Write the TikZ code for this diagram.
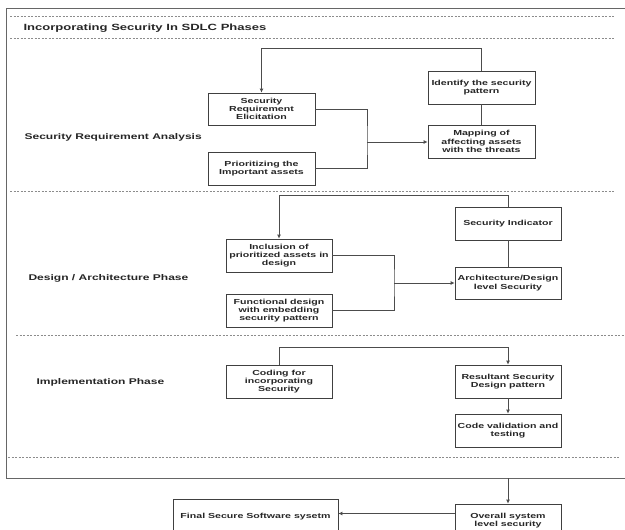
\documentclass[tikz,border=0pt]{standalone}
\usepackage{fontspec}
\newfontfamily\boxfont[FakeStretch=1.45]{Liberation Sans}
\usetikzlibrary{arrows.meta}
\tikzset{
    box/.style={draw=black!75, line width=0.8pt, fill=white, align=center,
        minimum width=106pt, minimum height=33pt, inner sep=1pt,
        font=\boxfont\bfseries\fontsize{7.3}{8.3}\selectfont, text=black!85},
    arr/.style={draw=black!70, line width=0.8pt, -{Latex[length=4pt,width=4pt]}},
    con/.style={draw=black!70, line width=0.8pt},
    sep/.style={draw=black!45, dashed, dash pattern=on 2pt off 1.5pt, line width=0.6pt},
    phase/.style={anchor=west, font=\boxfont\bfseries\fontsize{8.3}{9}\selectfont, text=black!85},
}
\begin{document}
\begin{tikzpicture}[x=1pt,y=-1pt]
            \useasboundingbox (0,0) rectangle (625,530);
            \clip (0,0) rectangle (625,530);
            \fill[white] (0,0) rectangle (625,530);
            \draw[black!60, line width=0.8pt] (625,8) -- (6,8) -- (6,478) -- (625,478);
            \foreach \y/\xa/\xb in {16/10/614, 38/10/614, 191/10/614, 335/16/625, 457/8/620}
            {
                \draw[sep] (\xa,\y) -- (\xb,\y);
            }
            \node[phase, font=\boxfont\bfseries\fontsize{9}{10}\selectfont] (title) at (20,28) {Incorporating Security In SDLC Phases};
            \node[phase] (ph1) at (21,137) {Security Requirement Analysis};
            \node[phase] (ph2) at (25,278) {Design / Architecture Phase};
            \node[phase] (ph3) at (33,382) {Implementation Phase};

            \node[box, minimum width=107pt, minimum height=32pt] (elicit) at (261.5,109) {Security\\Requirement\\Elicitation};
            \node[box, minimum width=107pt] (prior) at (261.5,168.5) {Prioritizing the\\Important assets};
            \node[box, minimum width=107pt] (ident) at (481.5,87.5) {Identify the security\\pattern};
            \node[box, minimum width=107pt] (mapping) at (481.5,141.5) {Mapping of\\affecting assets\\with the threats};

            \node[box] (incl) at (279,255.5) {Inclusion of\\prioritized assets in\\design};
            \node[box] (func) at (279,310.5) {Functional design\\with embedding\\security pattern};
            \node[box] (indic) at (508,223.5) {Security Indicator};
            \node[box, minimum height=32pt] (archsec) at (508,283) {Architecture/Design\\level Security};

            \node[box] (coding) at (279,381.5) {Coding for\\incorporating\\Security};
            \node[box] (result) at (508,381.5) {Resultant Security\\Design pattern};
            \node[box] (valid) at (508,430.5) {Code validation and\\testing};

            \node[box] (overall) at (508,520.5) {Overall system\\level security};
            \node[box, minimum width=165pt, minimum height=36pt] (final) at (255.5,517) {Final Secure Software sysetm};

            \coordinate (j1) at (367,142);
            \coordinate (j2) at (394,283);
            \coordinate (fb) at (508,478);

            \draw[arr] (ident.north) -- ++(0,-22) -| (elicit.north);
            \draw[con] (ident) -- (mapping);
            \draw[con] (elicit.east) -| (j1) |- (prior.east);
            \draw[arr] (j1) -- (j1 -| mapping.west);

            \draw[arr] (indic.north) -- ++(0,-11) -| (incl.north);
            \draw[con] (indic) -- (archsec);
            \draw[con] (incl.east) -| (j2) |- (func.east);
            \draw[arr] (j2) -- (archsec.west);

            \draw[arr] (coding.north) -- ++(0,-17) -| (result.north);
            \draw[arr] (result) -- (valid);

            \draw[arr] (fb) -- (overall.north);
            \path ([yshift=7pt]overall.west) coordinate (ow);
            \draw[arr] (ow) -- (ow -| final.east);
        \end{tikzpicture}
\end{document}
